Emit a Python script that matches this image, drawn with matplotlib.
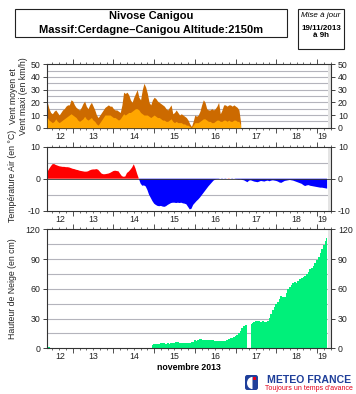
import numpy as np
import matplotlib
matplotlib.use('Agg')
import matplotlib.pyplot as plt
from matplotlib.patches import Rectangle, FancyBboxPatch, Wedge
import matplotlib.transforms as mtransforms

plt.rcParams['font.family'] = ['Liberation Sans', 'DejaVu Sans']

# ---------------- data ----------------
start_day = 12.375          # 12 Nov 2013, 09h (hourly data)
x_end = 19.345
day_labels = [12, 13, 14, 15, 16, 17, 18, 19]

wind_max = [20, 15, 12, 11, 13, 14, 12, 10, 12, 14, 15, 17, 18, 18, 22, 21, 18, 16, 15, 14,
            16, 19, 21, 17, 15, 18, 20, 17, 14, 10, 8, 10, 12, 14, 16, 17, 18, 17, 17, 15,
            14, 14, 13, 12, 18, 28, 27, 28, 26, 22, 20, 24, 27, 30, 24, 22, 30, 35, 32, 27,
            20, 18, 22, 24, 23, 21, 20, 19, 18, 17, 15, 14, 16, 18, 11, 12, 14, 12, 10, 11,
            10, 9, 8, 6, 3, 1, 5, 10, 9, 10, 13, 18, 22, 20, 15, 14, 14, 15, 14, 15,
            17, 20, 11, 14, 18, 18, 17, 18, 18, 17, 18, 17, 16, 14, 4]
wind_mean = [8, 6, 5, 4, 5, 7, 5, 4, 5, 6, 7, 8, 9, 10, 11, 10, 9, 8, 6, 5,
             6, 7, 9, 7, 6, 7, 8, 6, 5, 3, 2, 4, 6, 8, 10, 10, 10, 10, 9, 8,
             8, 7, 6, 7, 9, 11, 10, 11, 12, 12, 13, 14, 15, 15, 14, 12, 11, 10, 10, 10,
             9, 8, 9, 10, 9, 8, 8, 7, 6, 6, 5, 5, 6, 7, 5, 4, 5, 4, 4, 4,
             3, 3, 2, 2, 1, 0, 2, 4, 4, 4, 5, 6, 7, 7, 6, 5, 5, 4, 4, 5,
             6, 6, 5, 5, 6, 6, 5, 6, 5, 5, 6, 6, 5, 5, 2]

temperature = [2.0, 3.0, 3.8, 4.5, 4.6, 4.3, 4.1, 3.9, 3.8, 3.7, 3.7, 3.6, 3.6, 3.5, 3.3, 3.1,
               3.0, 2.8, 2.7, 2.5, 2.4, 2.3, 2.2, 2.2, 2.3, 2.6, 2.8, 2.9, 2.9, 3.0, 2.8, 2.2,
               1.6, 1.4, 1.4, 1.5, 1.6, 1.8, 2.1, 2.4, 2.5, 2.4, 2.3, 1.5, 0.8, 0.6, 0.7, 1.8,
               2.2, 2.8, 3.5, 4.5, 3.2, 1.5, 0.0, -1.5, -2.2, -2.1, -2.4, -3.5, -5.0, -6.0,
               -7.0, -7.8, -8.2, -8.5, -8.6, -8.5, -8.7, -8.8, -8.6, -8.2, -7.9, -7.6, -7.5, -7.5,
               -7.6, -7.5, -7.6, -7.5, -7.7, -7.8, -8.0, -8.8, -9.6, -9.4, -8.2, -7.6, -7.0, -6.5,
               -5.9, -5.2, -4.5, -3.8, -3.1, -2.4, -1.8, -1.2, -0.6, -0.3, -0.1, -0.1, 0.0, -0.1,
               0.0, -0.1, 0.0, 0.1, 0.0, -0.1, 0.0, -0.1, -0.2, -0.3, -0.2, -0.4, -0.5, -0.8,
               -1.1, -0.6, -0.5, -0.7, -0.9, -1.0, -1.1, -0.9, -0.7, -0.8, -0.9, -0.7, -0.6, -0.8,
               -0.6, -0.5, -0.6, -0.7, -0.9, -1.2, -1.3, -1.0, -0.7, -0.6, -0.5, -0.4, -0.5, -0.6,
               -0.8, -1.0, -1.2, -1.4, -1.6, -2.0, -2.3, -2.1, -2.0, -2.2, -2.3, -2.4, -2.5, -2.6,
               -2.7, -2.8, -2.8, -2.9, -3.0, -3.1]

snow = [1, 1] + [0] * 60 + [
    3, 4, 4, 4, 4, 5, 5, 5, 4, 5, 4, 5, 5, 5, 6, 6, 5, 5, 5, 5,
    5, 5, 5, 6, 6, 8, 7, 8, 9, 9, 8, 8, 8, 8, 8, 8, 8, 7, 7, 7,
    7, 7, 7, 7, 8, 9, 10, 10, 11, 12, 13, 15, 17, 20, 22, 24, 25, np.nan, 25, 26,
    27, 28, 28, 28, 27, 28, 27, 27, 28, 31, 35, 39, 42, 45, 47, 50, 53, 52, 52, 56,
    60, 62, 64, 66, 67, 66, 68, 70, 71, 72, 73, 75, 77, 80, 81, 83, 86, 89, 92, 96,
    100, 104, 108, 111]

# ---------------- figure ----------------
W, H = 356, 394
fig = plt.figure(figsize=(W / 100, H / 100), dpi=100)


def frac(x0, y0, x1, y1):
    return [x0 / W, 1 - y1 / H, (x1 - x0) / W, (y1 - y0) / H]


def ftext(x, y, s, **kw):
    return fig.text(x / W, 1 - y / H, s, **kw)


ax1 = fig.add_axes(frac(47.3, 64.3, 331, 127.7))
ax2 = fig.add_axes(frac(47.3, 146.7, 331, 210.7))
ax3 = fig.add_axes(frac(47.3, 229.3, 331, 348.3))

t_w = start_day + np.arange(len(wind_max)) / 24.0
t = start_day + np.arange(len(temperature)) / 24.0
temp = np.array(temperature, dtype=float)
snow_a = np.array(snow, dtype=float)

grid_c = '#b4b4bc'
spine_c = '#333333'


def style(ax, ylim, yticks, gridvals, label_off):
    ax.set_xlim(start_day, x_end)
    ax.set_ylim(*ylim)
    for g in gridvals:
        ax.axhline(g, color=grid_c, lw=0.8, zorder=0)
    ax.axvspan(t[-1] + 0.02, x_end, color='#e4e4e4', zorder=0, lw=0)
    ax.set_yticks(yticks)
    ax.set_yticklabels([str(v) for v in yticks])
    ax.tick_params(axis='y', which='both', direction='out', length=3, width=0.6,
                   labelsize=6.3, left=True, right=True, labelleft=True, labelright=True,
                   colors='#222222', pad=2)
    ax.set_xticks(np.arange(13, 20))
    ax.set_xticks([m / 6 for m in range(12 * 6, 20 * 6) if start_day < m / 6 < x_end and m % 6],
                  minor=True)
    ax.tick_params(axis='x', which='major', direction='out', length=3.5, width=0.6,
                   top=True, bottom=True, labelbottom=False, colors=spine_c)
    ax.tick_params(axis='x', which='minor', direction='out', length=1.6, width=0.5,
                   top=True, bottom=True, colors=spine_c)
    for s in ax.spines.values():
        s.set_color(spine_c)
        s.set_linewidth(0.8)
    trans = mtransforms.blended_transform_factory(ax.transData, ax.transAxes)
    for d in day_labels:
        a = max(d, start_day)
        b = min(d + 1, t[-1] + 0.02)
        ax.text((a + b) / 2, label_off, str(d), transform=trans,
                ha='center', va='top', fontsize=6.3, color='#222222')


# panel 1: wind
style(ax1, (0, 50), [0, 10, 20, 30, 40, 50], range(5, 50, 5), -0.06)
ax1.fill_between(t_w, 0, wind_max, color='#cc6a00', lw=0, zorder=2)
ax1.fill_between(t_w, 0, wind_mean, color='#ffa600', lw=0, zorder=3)

# panel 2: temperature
style(ax2, (-10, 10), [-10, 0, 10], [-5, 5], -0.06)
ax2.fill_between(t, 0, temp, where=temp >= 0, interpolate=True, color='#ff0000', lw=0, zorder=2)
ax2.fill_between(t, 0, temp, where=temp <= 0, interpolate=True, color='#0000ff', lw=0, zorder=2)
ax2.axhline(0, color='#333333', lw=0.6, zorder=3)

# panel 3: snow depth
style(ax3, (0, 120), [0, 30, 60, 90, 120], range(15, 120, 15), -0.035)
valid = ~np.isnan(snow_a)
ax3.fill_between(t, 0, np.nan_to_num(snow_a), where=valid, step='mid', color='#00f07a',
                 lw=0, zorder=2)

# axis titles
lab_kw = dict(rotation=90, ha='center', va='center', fontsize=6.3, color='#222222')
ftext(13, 96, 'Vent moyen et', **lab_kw)
ftext(23, 96, 'Vent maxi (en km/h)', **lab_kw)
ftext(13, 176, 'Température Air (en °C)', **lab_kw)
ftext(13, 289, 'Hauteur de Neige (en cm)', **lab_kw)
ftext(189, 368, 'novembre 2013', ha='center', va='center', fontsize=6.3, fontweight='bold')

# ---------------- header boxes ----------------
fig.patches.append(Rectangle((15 / W, 1 - 37 / H), 272 / W, 28 / H, transform=fig.transFigure,
                             fill=False, ec='#222222', lw=0.8))
ftext(151, 16, 'Nivose Canigou', ha='center', va='center', fontsize=8, fontweight='bold')
ftext(151, 30, 'Massif:Cerdagne–Canigou Altitude:2150m', ha='center', va='center',
      fontsize=8, fontweight='bold')

fig.patches.append(Rectangle((298 / W, 1 - 49 / H), 46 / W, 40 / H, transform=fig.transFigure,
                             fill=False, ec='#222222', lw=0.8))
ftext(321, 15.5, 'Mise à jour', ha='center', va='center', fontsize=5.8, style='italic')
ftext(321, 28.5, '19/11/2013', ha='center', va='center', fontsize=5.8, fontweight='bold')
ftext(321, 35.5, 'à 9h', ha='center', va='center', fontsize=5.8, fontweight='bold')

# ---------------- logo ----------------
fig.patches.append(FancyBboxPatch((245 / W, 1 - 390 / H), 13 / W, 15 / H,
                                  boxstyle='round,pad=0,rounding_size=0.006',
                                  transform=fig.transFigure, fc='#1f3f9a', ec='none'))
fig.patches.append(Wedge((252.5 / W, 1 - 383 / H), 5.5 / W, 90, 270, transform=fig.transFigure,
                         fc='white', ec='none'))
fig.patches.append(Rectangle((253 / W, 1 - 380 / H), 3 / W, 3 / H, transform=fig.transFigure,
                             fc='#e2001a', ec='none'))
ftext(309, 380, 'METEO FRANCE', ha='center', va='center', fontsize=7.6,
      fontweight='bold', color='#1f3f9a')
ftext(309, 389, "Toujours un temps d'avance", ha='center', va='center',
      fontsize=5, color='#e2001a')

fig.savefig('out.png', dpi=100)
